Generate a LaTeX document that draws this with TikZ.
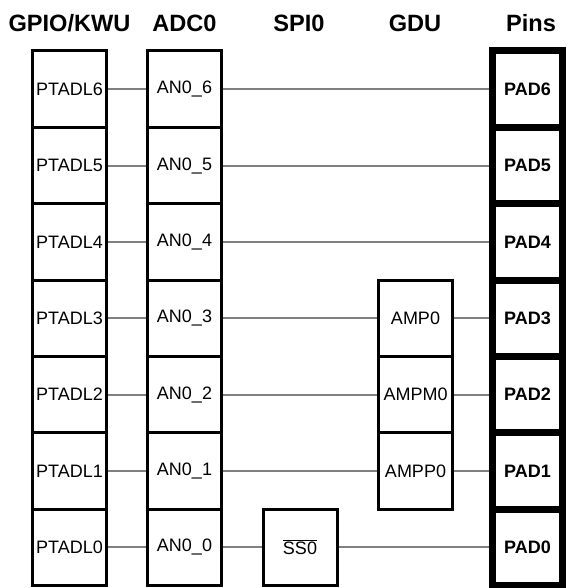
\documentclass[tikz,border=0pt]{standalone}
\usepackage{fontspec}
\setmainfont{Liberation Sans}
\usetikzlibrary{backgrounds}
\definecolor{wiregray}{RGB}{128,128,128}
\begin{document}
\begin{tikzpicture}[x=1pt,y=-1pt,
  cell/.style={draw, fill=white, line width=3pt, minimum width=74pt, minimum height=76.36pt, inner sep=0pt, font=\fontsize{18}{20}\selectfont},
  pincell/.style={draw, fill=white, line width=7pt, minimum width=70pt, minimum height=76.36pt, inner sep=0pt, font=\bfseries\fontsize{18}{20}\selectfont},
  hdr/.style={font=\bfseries\fontsize{23.6}{26}\selectfont},
  wire/.style={draw=wiregray, line width=2pt}]
\useasboundingbox (0,0) rectangle (570,588);
% headers
\node[hdr] (hg) at (69.5,23) {GPIO/KWU};
\node[hdr] (ha) at (184.5,23) {ADC0};
\node[hdr] (hs) at (299,23) {SPI0};
\node[hdr] (hd) at (415,23) {GDU};
\node[hdr] (hp) at (531,23) {Pins};
% columns
\foreach \k in {0,...,6}{
  \pgfmathsetmacro{\yy}{51+76.36*(6-\k+0.5)}
  \node[cell] (g\k) at (69.5,\yy) {PTADL\k};
  \node[cell] (a\k) at (184.5,\yy) {AN0\_\k};
  \node[pincell] (p\k) at (527.5,\yy) {PAD\k};
}
\node[cell] (ss) at (300,{51+76.36*6.5}) {\ensuremath{\overline{\hbox{SS0}}}};
\node[cell] (m3) at (415.5,{51+76.36*3.5}) {AMP0};
\node[cell] (m2) at (415.5,{51+76.36*4.5}) {AMPM0};
\node[cell] (m1) at (415.5,{51+76.36*5.5}) {AMPP0};
\begin{scope}[on background layer]
\foreach \k in {0,...,6}{
  \draw[wire] (g\k.center) -- (a\k.center);
}
\foreach \k in {4,5,6}{
  \draw[wire] (a\k.center) -- (p\k.center);
}
\foreach \k in {1,2,3}{
  \draw[wire] (a\k.center) -- (m\k.center);
  \draw[wire] (m\k.center) -- (p\k.center);
}
\draw[wire] (a0.center) -- (ss.center);
\draw[wire] (ss.center) -- (p0.center);
\end{scope}
\end{tikzpicture}
\end{document}
